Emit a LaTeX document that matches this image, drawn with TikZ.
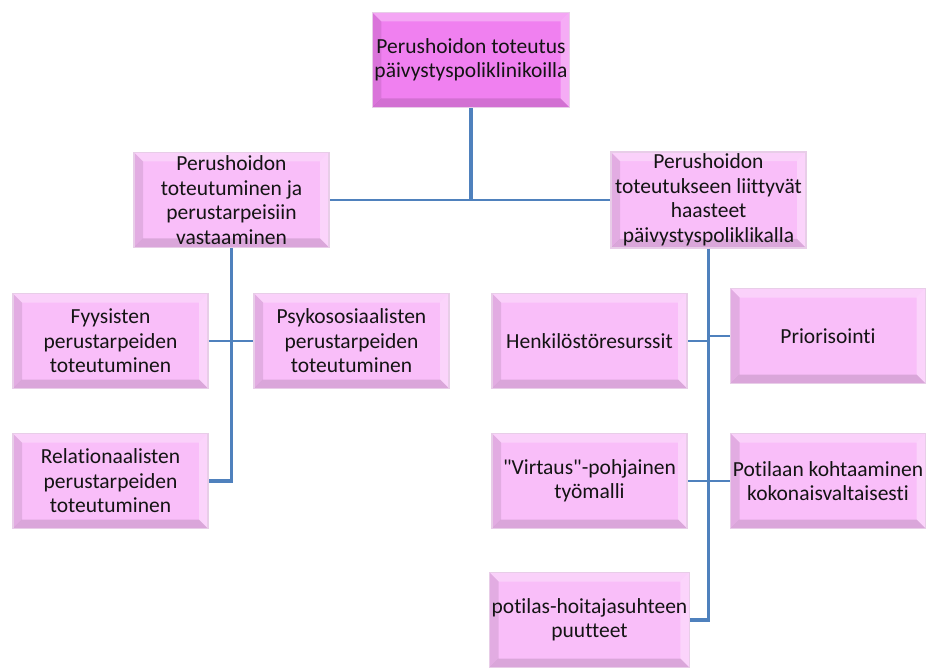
\documentclass[tikz,border=0pt]{standalone}
\usepackage{fontspec}
\setmainfont{Carlito}[Ligatures={TeXOff,CommonOff}]
\definecolor{linkblue}{RGB}{79,129,189}
\definecolor{pinkfill}{RGB}{249,190,249}
\definecolor{magfill}{RGB}{240,128,240}
\definecolor{boxedge}{RGB}{232,205,232}
\tikzset{
  bevel/.style={path picture={
    \fill[white,opacity=0.30] (path picture bounding box.north west) -- (path picture bounding box.north east)
      -- ([xshift=-9pt,yshift=-9pt]path picture bounding box.north east) -- ([xshift=9pt,yshift=-9pt]path picture bounding box.north west) -- cycle;
    \fill[black,opacity=0.09] (path picture bounding box.north west) -- ([xshift=9pt,yshift=-9pt]path picture bounding box.north west)
      -- ([xshift=9pt,yshift=9pt]path picture bounding box.south west) -- (path picture bounding box.south west) -- cycle;
    \fill[white,opacity=0.35] (path picture bounding box.north east) -- ([xshift=-9pt,yshift=-9pt]path picture bounding box.north east)
      -- ([xshift=-9pt,yshift=9pt]path picture bounding box.south east) -- (path picture bounding box.south east) -- cycle;
    \fill[black,opacity=0.12] (path picture bounding box.south west) -- ([xshift=9pt,yshift=9pt]path picture bounding box.south west)
      -- ([xshift=-9pt,yshift=9pt]path picture bounding box.south east) -- (path picture bounding box.south east) -- cycle;
  }},
  box/.style={bevel, rectangle, fill=pinkfill, draw=boxedge, line width=1.5pt,
    minimum width=195pt, minimum height=95pt, inner sep=2pt, align=center,
    font=\fontsize{21.5}{24.5}\selectfont, text=black!92},
  topbox/.style={box, fill=magfill},
  link/.style={draw=linkblue, line width=2.6pt},
  spine/.style={draw=linkblue, line width=3.2pt},
}
\begin{document}
\begin{tikzpicture}[x=1pt,y=-1pt]
\useasboundingbox (0,0) rectangle (928,668);
\node[topbox] (top) at (471,60) {Perushoidon toteutus\\päivystyspoliklinikoilla};
\node[box] (lm) at (231.5,200) {Perushoidon\\toteutuminen ja\\perustarpeisiin\\vastaaminen};
\node[box] (rm) at (708.5,200) {Perushoidon\\toteutukseen liittyvät\\haasteet\\päivystyspoliklikalla};
\node[box] (fy) at (110.5,341) {Fyysisten\\perustarpeiden\\toteutuminen};
\node[box] (psy) at (351.5,341) {Psykososiaalisten\\perustarpeiden\\toteutuminen};
\node[box] (rel) at (110.5,481) {Relationaalisten\\perustarpeiden\\toteutuminen};
\node[box] (henk) at (589.5,341) {Henkilöstöresurssit};
\node[box] (pri) at (828,336) {Priorisointi};
\node[box] (vir) at (589.5,481) {"Virtaus"-pohjainen\\työmalli};
\node[box] (kok) at (828,481) {Potilaan kohtaaminen\\kokonaisvaltaisesti};
\node[box] (pot) at (589.5,620) {potilas-hoitajasuhteen\\puutteet};
% connectors
\draw[spine] (top.south) -- (top.south |- lm.east);
\draw[link] (lm.east) -- (rm.west);
\draw[spine] (lm.south) -- (lm.south |- rel.east) -- (rel.east);
\draw[link] (fy.east) -- (psy.west);
\draw[spine] (rm.south) -- (rm.south |- pot.east) -- (pot.east);
\draw[link] (henk.east) -- (henk.east -| rm.south);
\draw[link] (pri.west) -- (pri.west -| rm.south);
\draw[link] (vir.east) -- (kok.west);
\end{tikzpicture}
\end{document}
